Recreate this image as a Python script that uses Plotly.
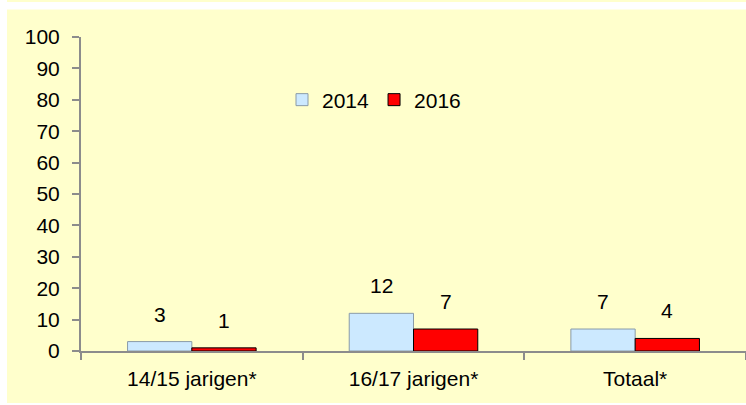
import plotly.graph_objects as go

categories = ["14/15 jarigen*", "16/17 jarigen*", "Totaal*"]
series_names = ["2014", "2016"]
values_2014 = [3, 12, 7]
values_2016 = [1, 7, 4]
y_ticks = [0, 10, 20, 30, 40, 50, 60, 70, 80, 90, 100]

W, H = 746, 405
L, R, T, B = 81, 0, 37, 54
pw, ph = W - L - R, H - T - B

def px_x(x):
    return (x - L) / pw

def px_y(y):
    return (H - B - y) / ph

FONT = "Liberation Sans, Arial, sans-serif"
FS = 21
BG = "#FFFFCC"

fig = go.Figure()
fig.add_trace(go.Bar(
    x=categories, y=values_2014, name=series_names[0],
    marker=dict(color="#CCE9FF", line=dict(color="#8A9BA8", width=1)),
))
fig.add_trace(go.Bar(
    x=categories, y=values_2016, name=series_names[1],
    marker=dict(color="#FF0000", line=dict(color="#000000", width=1)),
))

annotations = []
for vals, shift in ((values_2014, -32), (values_2016, 32)):
    for c, v in zip(categories, vals):
        annotations.append(dict(
            x=c, y=v, xref="x", yref="y", text=str(v), showarrow=False,
            xshift=shift, yanchor="bottom", yshift=14,
            font=dict(family=FONT, size=FS, color="#000000"),
        ))

shapes = [
    dict(type="rect", xref="paper", yref="paper", x0=px_x(0), x1=px_x(W), y0=px_y(2), y1=px_y(9.5),
         fillcolor="white", line=dict(width=0), layer="below"),
    dict(type="rect", xref="paper", yref="paper", x0=px_x(0), x1=px_x(7), y0=px_y(0), y1=px_y(H),
         fillcolor="white", line=dict(width=0), layer="below"),
    dict(type="rect", xref="paper", yref="paper", x0=px_x(0), x1=px_x(W), y0=px_y(403), y1=px_y(H),
         fillcolor="white", line=dict(width=0), layer="below"),
]

fig.update_layout(
    width=W, height=H,
    margin=dict(l=L, r=R, t=T, b=B),
    paper_bgcolor=BG, plot_bgcolor=BG,
    barmode="group", bargap=0.42, bargroupgap=0,
    font=dict(family=FONT, size=FS, color="#000000"),
    showlegend=True,
    legend=dict(
        orientation="h", x=px_x(282), xanchor="left", y=px_y(100), yanchor="middle",
        bgcolor="rgba(0,0,0,0)", font=dict(family=FONT, size=FS, color="#000000"),
        itemwidth=30, tracegroupgap=0,
    ),
    annotations=annotations,
    shapes=shapes,
)
fig.update_xaxes(
    type="category", showline=True, linecolor="#8C8C8C", linewidth=2,
    ticks="outside", tickson="boundaries", ticklen=7, tickcolor="#8C8C8C", tickwidth=2,
    ticklabelstandoff=8,
    showgrid=False, zeroline=False,
    tickfont=dict(family=FONT, size=FS, color="#000000"),
)
fig.update_yaxes(
    range=[0, 100], tickvals=y_ticks, ticktext=[str(t) for t in y_ticks],
    showline=True, linecolor="#8C8C8C", linewidth=2,
    ticks="outside", ticklen=7, tickcolor="#8C8C8C", tickwidth=2,
    ticklabelstandoff=8,
    showgrid=False, zeroline=False,
    tickfont=dict(family=FONT, size=FS, color="#000000"),
)

fig.write_html("out.html", config={"displayModeBar": False},
               post_script="document.body.style.margin='0';")
